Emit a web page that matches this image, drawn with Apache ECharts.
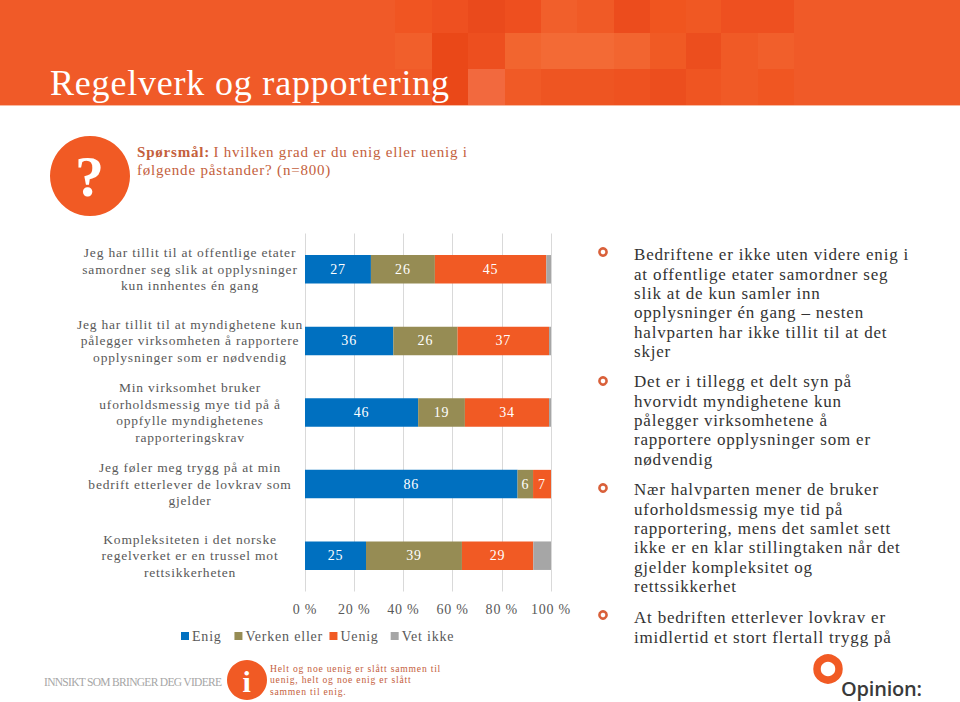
<!DOCTYPE html>
<html><head><meta charset="utf-8">
<script src="https://cdn.jsdelivr.net/npm/echarts@6/dist/echarts.min.js"></script>
<style>html,body{margin:0;background:#fff}#c{width:960px;height:702px;letter-spacing:.8px}</style>
</head><body><div id="c"></div>
<script>
const categories = [
 "Jeg har tillit til at offentlige etater\nsamordner seg slik at opplysninger\nkun innhentes én gang",
 "Jeg har tillit til at myndighetene kun\npålegger virksomheten å rapportere\nopplysninger som er nødvendig",
 "Min virksomhet bruker\nuforholdsmessig mye tid på å\noppfylle myndighetenes\nrapporteringskrav",
 "Jeg føler meg trygg på at min\nbedrift etterlever de lovkrav som\ngjelder",
 "Kompleksiteten i det norske\nregelverket er en trussel mot\nrettsikkerheten"
];
const enig = [26.8, 35.9, 46, 86.4, 24.8];
const verken = [26, 26.1, 19, 6.3, 39];
const uenig = [45.3, 37.2, 34.2, 7.3, 29];
const vetIkke = [1.9, 0.8, 0.8, 0, 7.2];
const seriesNames = ["Enig", "Verken eller", "Uenig", "Vet ikke"];
const colors = ["#0070C0", "#968C54", "#F15A24", "#A6A6A6"];
const title = "Regelverk og rapportering";
const question = "{b|Spørsmål:}\u00A0I hvilken grad er du enig eller uenig i\nfølgende påstander? (n=800)";
const footerTag = "INNSIKT SOM BRINGER DEG VIDERE";
const note = "Helt og noe uenig er slått sammen til\nuenig, helt og noe enig er slått\nsammen til enig.";
const points = [
 "Bedriftene er ikke uten videre enig i\nat offentlige etater samordner seg\nslik at de kun samler inn\nopplysninger én gang – nesten\nhalvparten har ikke tillit til at det\nskjer",
 "Det er i tillegg et delt syn på\nhvorvidt myndighetene kun\npålegger virksomhetene å\nrapportere opplysninger som er\nnødvendig",
 "Nær halvparten mener de bruker\nuforholdsmessig mye tid på\nrapportering, mens det samlet sett\nikke er en klar stillingtaken når det\ngjelder kompleksitet og\nrettssikkerhet",
 "At bedriften etterlever lovkrav er\nimidlertid et stort flertall trygg på"
];
const pointTops = [245, 372, 480, 608];
const bulletYs = [252, 381, 488, 615];
const font = '"Liberation Serif"';
// decorative header tiles: x, y, w, h, colour
const tiles = [
 [395,0,37,33,"#F05522"],[432,0,36,33,"#EE5020"],[468,0,37,33,"#EA4A1C"],[505,0,36,33,"#EE4F1F"],[541,0,36,33,"#F15F2B"],[577,0,37,33,"#F05A26"],[614,0,36,33,"#EC4C1D"],[650,0,36,33,"#F0551F"],[686,0,35,33,"#F05823"],[721,0,37,33,"#EE5020"],[758,0,36,33,"#EE5020"],
 [395,33,37,36,"#F15F2B"],[432,33,36,36,"#EA4818"],[468,33,37,36,"#ED4F1F"],[505,33,36,36,"#F2652F"],[541,33,73,36,"#F36A35"],[614,33,36,36,"#F26530"],[650,33,36,36,"#F05A24"],[686,33,35,36,"#EC4E1E"],[721,33,37,36,"#F05A26"],[758,33,36,36,"#F15F2B"],
 [432,69,36,36,"#EA4818"],[468,69,37,36,"#F2693E"],[505,69,36,36,"#F05A26"],[541,69,73,36,"#EE5522"],[614,69,36,36,"#EE5220"],[650,69,36,36,"#EC4E1E"],[686,69,35,36,"#EF5522"],[721,69,37,36,"#F05A26"],[758,69,36,36,"#F05622"]
];
const graphics = [
 {type:'rect',z:0,shape:{x:0,y:0,width:960,height:105},style:{fill:'#F05A28'}},
 ...tiles.map(t=>({type:'rect',z:1,shape:{x:t[0],y:t[1],width:t[2],height:t[3]},style:{fill:t[4]}})),
 {type:'rect',z:1,shape:{x:0,y:105,width:960,height:1},style:{fill:'#F8B9A0'}},
 {type:'text',z:3,x:50,y:65,style:{text:title,fill:'#fff',font:'36px '+font}},
 {type:'circle',z:2,shape:{cx:90,cy:176,r:40},style:{fill:'#F15A24'}},
 {type:'text',z:3,x:90,y:176,style:{text:'?',fill:'#fff',font:'bold 58px '+font,align:'center',verticalAlign:'middle'}},
 {type:'text',z:3,x:137,y:143,style:{text:question,fill:'#C4603C',font:'15px '+font,lineHeight:18,rich:{b:{font:'bold 15px '+font,fill:'#C4603C',padding:[0,6,0,0]}}}},
 {type:'text',z:3,x:44,y:676,style:{text:footerTag,fill:'#A6A6A6',font:'11.5px '+font}},
 {type:'circle',z:2,shape:{cx:247,cy:680,r:20},style:{fill:'#F15A24'}},
 {type:'text',z:3,x:247,y:681,style:{text:'i',fill:'#fff',font:'bold 30px '+font,align:'center',verticalAlign:'middle'}},
 {type:'text',z:3,x:270,y:663,style:{text:note,fill:'#C4603C',font:'9.6px '+font,lineHeight:11.3}},
 ...points.map((p,i)=>({type:'text',z:3,x:634,y:pointTops[i],style:{text:p,fill:'#333',font:'17px '+font,lineHeight:19.4}})),
 ...bulletYs.map(y=>({type:'circle',z:3,shape:{cx:603,cy:y,r:3.6},style:{fill:'#fff',stroke:'#D9603A',lineWidth:2.6}})),
 {type:'circle',z:3,shape:{cx:828,cy:669,r:11},style:{fill:'#fff',stroke:'#F15A24',lineWidth:7.5}},
 {type:'text',z:3,x:841,y:678,style:{text:'Opinion:',fill:'#3A3A3A',font:'600 20px "Open Sans"'}}
];
const data = [enig, verken, uenig, vetIkke];
const chart = echarts.init(document.getElementById('c'), null, {renderer:'svg'});
chart.setOption({
 animation:false,
 backgroundColor:'#fff',
 textStyle:{fontFamily:'Liberation Serif'},
 graphic:graphics,
 legend:{left:176,top:624,itemWidth:8,itemHeight:8,itemGap:16,icon:'rect',
  data:seriesNames,textStyle:{fontSize:14,color:'#595959',padding:[0,0,0,-2]}},
 grid:{left:305,width:246,top:233.5,height:358,containLabel:false},
 xAxis:{type:'value',min:0,max:100,interval:20,
  axisLabel:{formatter:'{value} %',fontSize:14,color:'#595959',margin:11},
  axisLine:{show:false},axisTick:{show:false},
  splitLine:{show:true,lineStyle:{color:'#D9D9D9',width:1}}},
 yAxis:{type:'category',inverse:true,data:categories,
  axisLine:{show:false},axisTick:{show:false},
  axisLabel:{fontSize:13.5,color:'#595959',align:'center',margin:115,lineHeight:16.7}},
 series:data.map((d,i)=>({
  name:seriesNames[i],type:'bar',stack:'t',barWidth:28.5,data:d,
  itemStyle:{color:colors[i]},
  label:{show:i<3,position:'inside',color:'#fff',fontSize:14,formatter:p=>Math.round(p.value)}
 }))
});
// per-text tracking, which the library's text style has no option for
document.querySelectorAll('#c svg text').forEach(t=>{
 const s=t.textContent;
 if(s===footerTag) t.style.letterSpacing='-0.7px';
 if(s==='Opinion:') t.style.letterSpacing='-0.2px';
});
</script></body></html>
